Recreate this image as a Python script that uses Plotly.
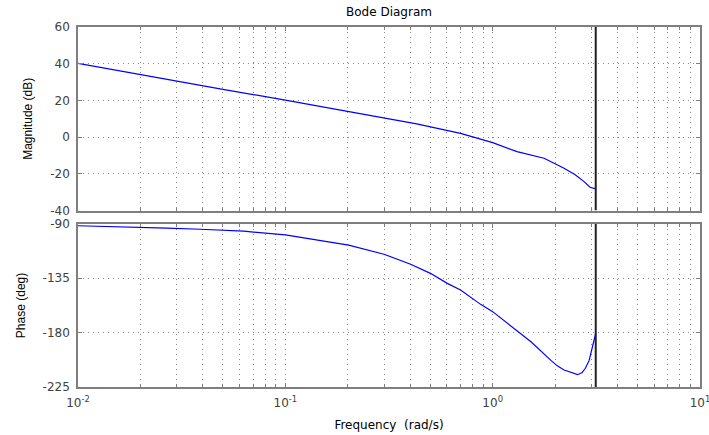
import plotly.graph_objects as go

# ---- data ----
freq_mag = [0.01, 0.02, 0.03, 0.05, 0.1, 0.2, 0.3, 0.43, 0.7, 1.0, 1.31, 1.77, 2.21, 2.5, 2.76, 2.95, 3.1416]
mag_db = [40.2, 34.0, 30.5, 26.0, 20.2, 14.0, 10.6, 7.2, 2.1, -3.0, -7.9, -11.5, -16.9, -20.5, -24.2, -27.3, -28.2]

freq_ph = [0.01, 0.0143, 0.0268, 0.0389, 0.063, 0.1, 0.202, 0.299, 0.402, 0.501, 0.604, 0.70,
           0.875, 1.0, 1.27, 1.53, 1.91, 2.05, 2.21, 2.38, 2.57, 2.70, 2.80, 2.92, 3.02, 3.09, 3.1416]
phase_deg = [-91.5, -92.0, -93.4, -94.4, -96.0, -99.1, -107.5, -115.1, -123.4, -130.9, -139.2, -144.7,
             -156.6, -162.6, -176.4, -187.5, -203.0, -207.5, -210.9, -213.1, -214.8, -213.0, -209.5,
             -203.0, -192.0, -184.0, -180.5]

nyquist = 3.1416
mag_range = [-40, 60]
phase_range = [-225, -90]
mag_ticks = [-40, -20, 0, 20, 40, 60]
mag_ticktext = ["-40", "-20", "0", "20", "40", "60"]
phase_ticks = [-225, -180, -135, -90]
phase_ticktext = ["-225", "-180", "-135", "-90"]
x_tickvals = [0.01, 0.1, 1, 10]
x_ticktext = ["10<sup>-2</sup>", "10<sup>-1</sup>", "10<sup>0</sup>", "10<sup>1</sup>"]

WIDE = "DejaVu Sans, Verdana, sans-serif"
NARROW = "Liberation Sans, Arial, sans-serif"
BOX = "#7f7f7f"
GRID = "#8a8a8a"
DOT = "1px,4px"

fig = go.Figure()
fig.add_trace(go.Scatter(x=freq_mag, y=mag_db, mode="lines", line=dict(color="#0000ff", width=1.2),
                         xaxis="x", yaxis="y", showlegend=False))
fig.add_trace(go.Scatter(x=[nyquist, nyquist], y=mag_range, mode="lines",
                         line=dict(color="#202020", width=2), xaxis="x", yaxis="y", showlegend=False))
fig.add_trace(go.Scatter(x=freq_ph, y=phase_deg, mode="lines", line=dict(color="#0000ff", width=1.2),
                         xaxis="x2", yaxis="y2", showlegend=False))
fig.add_trace(go.Scatter(x=[nyquist, nyquist], y=phase_range, mode="lines",
                         line=dict(color="#202020", width=2), xaxis="x2", yaxis="y2", showlegend=False))

xcommon = dict(type="log", range=[-2, 1], tickvals=x_tickvals, ticktext=x_ticktext,
               showline=True, linecolor=BOX, linewidth=1.5, mirror="ticks",
               ticks="inside", ticklen=4, tickcolor=BOX, automargin=False,
               ticklabeloverflow="allow", ticklabelstandoff=4,
               showgrid=True, gridcolor=GRID, griddash=DOT, gridwidth=1,
               zeroline=False,
               minor=dict(dtick="D1", ticks="inside", ticklen=3, tickcolor=BOX,
                          showgrid=True, gridcolor=GRID, griddash=DOT, gridwidth=1),
               tickfont=dict(family=WIDE, size=12, color="#404040"))
ycommon = dict(showline=True, linecolor=BOX, linewidth=1.5, mirror="ticks",
               ticks="inside", ticklen=4, tickcolor=BOX, automargin=False,
               showgrid=True, gridcolor=GRID, griddash=DOT, gridwidth=1,
               zeroline=False, ticklabelstandoff=4,
               tickfont=dict(family=WIDE, size=12, color="#404040"))

fig.update_layout(
    width=709, height=435,
    margin=dict(l=78, r=9, t=27, b=48),
    paper_bgcolor="white", plot_bgcolor="white",
    font=dict(family=NARROW, size=11, color="black"),
    title=dict(text="Bode Diagram", x=0.5, xref="paper", y=0.972, yref="container",
               xanchor="center", yanchor="middle", font=dict(family=WIDE, size=12, color="black")),
    xaxis=dict(xcommon, domain=[0, 1], anchor="y", showticklabels=False),
    xaxis2=dict(xcommon, domain=[0, 1], anchor="y2", matches="x",
                title=dict(text="Frequency  (rad/s)", standoff=11,
                           font=dict(family=WIDE, size=12, color="black"))),
    yaxis=dict(ycommon, domain=[0.49, 1], range=mag_range, tickvals=mag_ticks, ticktext=mag_ticktext,
               title=dict(text="Magnitude (dB)", standoff=15, font=dict(family=NARROW, size=12, color="black"))),
    yaxis2=dict(ycommon, domain=[0, 0.453], range=phase_range, tickvals=phase_ticks, ticktext=phase_ticktext,
                title=dict(text="Phase (deg)", standoff=14, font=dict(family=NARROW, size=12, color="black"))),
)

fig.write_html("out.html", post_script="document.body.style.margin='0';",
               config={"displayModeBar": False})
